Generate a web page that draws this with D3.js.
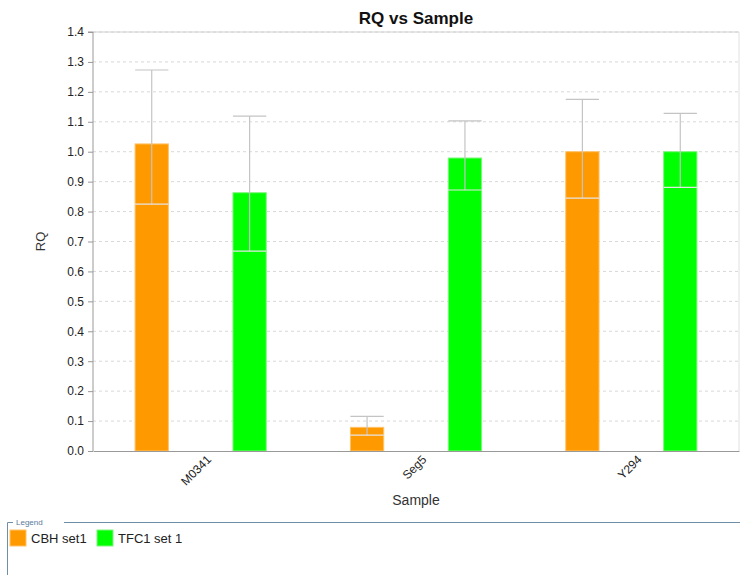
<!DOCTYPE html>
<html><head><meta charset="utf-8">
<script src="https://cdn.jsdelivr.net/npm/d3@7"></script>
<style>body{margin:0;background:#fff;font-family:"Liberation Sans",Arial,sans-serif}</style>
</head><body><svg id="c" width="740" height="575"></svg>
<script>
const samples = ["M0341", "Seg5", "Y294"];
const seriesNames = ["CBH set1", "TFC1 set 1"];
const seriesColors = ["#ff9900", "#00ff00"];
const cbhRQ = [1.026, 0.079, 1.0];
const cbhMax = [1.273, 0.116, 1.175];
const cbhMin = [0.825, 0.053, 0.845];
const tfcRQ = [0.863, 0.979, 1.0];
const tfcMax = [1.119, 1.103, 1.128];
const tfcMin = [0.668, 0.872, 0.881];
const yTicks = [0,0.1,0.2,0.3,0.4,0.5,0.6,0.7,0.8,0.9,1.0,1.1,1.2,1.3,1.4];

const svg = d3.select("#c");
const L = 93, R = 739, T = 32, B = 451;
const x0 = d3.scaleBand().domain(samples).range([L, R]);
const x1 = d3.scaleBand().domain(seriesNames).range([0, x0.bandwidth()]).paddingInner(0.66).paddingOuter(0.43);
const y = d3.scaleLinear().domain([0, 1.4]).range([B, T]);

// grid
svg.append("g").selectAll("line").data(yTicks.slice(1)).join("line")
  .attr("x1", L).attr("x2", R).attr("y1", d => y(d)).attr("y2", d => y(d))
  .attr("stroke", "#d8d8d8").attr("stroke-dasharray", "3,3");
svg.append("line").attr("x1", L).attr("x2", R).attr("y1", T).attr("y2", T).attr("stroke", "#cfcfcf").attr("stroke-width", 1.2);
svg.append("line").attr("x1", R).attr("x2", R).attr("y1", T).attr("y2", B).attr("stroke", "#e0e0e0");

const rows = samples.map((s, i) => [
  {s, k: 0, v: cbhRQ[i], hi: cbhMax[i], lo: cbhMin[i]},
  {s, k: 1, v: tfcRQ[i], hi: tfcMax[i], lo: tfcMin[i]}
]).flat();

const bx = d => x0(d.s) + x1(seriesNames[d.k]);
svg.append("g").selectAll("rect").data(rows).join("rect")
  .attr("x", bx).attr("width", x1.bandwidth())
  .attr("y", d => y(d.v)).attr("height", d => y(0) - y(d.v))
  .attr("fill", d => seriesColors[d.k])
  .attr("stroke", d => d.k ? "#7ff57f" : "#ffc266").attr("stroke-width", 1);

// error bars
const eg = svg.append("g").attr("stroke", "#c4c4c4").attr("stroke-width", 1.2);
rows.forEach(d => {
  const cx = bx(d) + x1.bandwidth() / 2, w = x1.bandwidth();
  eg.append("line").attr("x1", cx).attr("x2", cx).attr("y1", y(d.hi)).attr("y2", y(d.lo));
  eg.append("line").attr("x1", bx(d)).attr("x2", bx(d) + w).attr("y1", y(d.hi)).attr("y2", y(d.hi));
  eg.append("line").attr("x1", bx(d)).attr("x2", bx(d) + w).attr("y1", y(d.lo)).attr("y2", y(d.lo)).attr("stroke", "#e6e6e6");
});

// axes
const ya = svg.append("g").attr("transform", `translate(${L},0)`)
  .call(d3.axisLeft(y).tickValues(yTicks).tickFormat(d3.format(".1f")).tickSize(5).tickPadding(4));
ya.select(".domain").attr("stroke", "#999").attr("d", `M-5,${T}H0V${B}`);
ya.selectAll(".tick line").attr("stroke", "#999");
ya.selectAll("text").attr("font-size", 12).attr("fill", "#222").attr("font-family", "Liberation Sans, Arial");

const xa = svg.append("g").attr("transform", `translate(0,${B})`)
  .call(d3.axisBottom(x0).tickSize(0).tickPadding(6));
xa.select(".domain").attr("stroke", "#999").attr("stroke-width", 1.2);
xa.selectAll("text").attr("font-size", 12).attr("fill", "#222").attr("font-family", "Liberation Sans, Arial")
  .attr("text-anchor", "end").attr("dy", "0.35em")
  .attr("transform", "translate(4,2) rotate(-45)");

svg.append("text").attr("x", (L + R) / 2).attr("y", 24).attr("text-anchor", "middle")
  .attr("font-size", 17).attr("font-weight", "bold").attr("fill", "#111").text("RQ vs Sample");
svg.append("text").attr("x", (L + R) / 2).attr("y", 505).attr("text-anchor", "middle")
  .attr("font-size", 14).attr("fill", "#333").text("Sample");
svg.append("text").attr("transform", `translate(45,${(T + B) / 2}) rotate(-90)`).attr("text-anchor", "middle")
  .attr("font-size", 13).attr("fill", "#333").text("RQ");

// legend
svg.append("path").attr("d", "M7.5,575V522.5H13M64,522.5H740").attr("fill", "none").attr("stroke", "#6f8fa8");
svg.append("text").attr("x", 16).attr("y", 525).attr("font-size", 8).attr("fill", "#5a7a9a").text("Legend");
const lg = svg.append("g").selectAll("g").data(seriesNames).join("g")
  .attr("transform", (d, i) => `translate(${[10, 97][i]},530)`);
lg.append("rect").attr("width", 16).attr("height", 16).attr("fill", (d, i) => seriesColors[i])
  .attr("stroke", (d, i) => i ? "#7ff57f" : "#ffc266");
lg.append("text").attr("x", 21).attr("y", 13).attr("font-size", 13).attr("fill", "#222").text(d => d);
</script></body></html>
